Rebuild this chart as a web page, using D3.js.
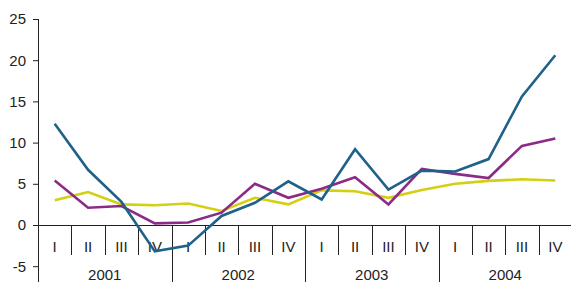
<!DOCTYPE html>
<html>
<head>
<meta charset="utf-8">
<script src="https://cdn.jsdelivr.net/npm/d3@7"></script>
<style>
  body { margin: 0; background: #fff; }
  svg text { font-family: "Liberation Sans", Arial, sans-serif; fill: #222; }
</style>
</head>
<body>
<div id="chart"></div>
<script>
// quarters and years
let years = ["2001", "2002", "2003", "2004"];
let quarters = ["I", "II", "III", "IV"];
let yTicks = [-5, 0, 5, 10, 15, 20, 25];

// series values, one per quarter
let blueSeries = [12.3, 6.7, 2.8, -3.2, -2.5, 1.1, 2.7, 5.3, 3.1, 9.2, 4.3, 6.6, 6.5, 8.0, 15.6, 20.6];
let purpleSeries = [5.4, 2.1, 2.3, 0.2, 0.3, 1.5, 5.0, 3.3, 4.4, 5.8, 2.5, 6.8, 6.2, 5.7, 9.6, 10.5];
let yellowSeries = [3.0, 4.0, 2.5, 2.4, 2.6, 1.7, 3.3, 2.5, 4.2, 4.1, 3.3, 4.25, 5.0, 5.35, 5.55, 5.4];

let width = 571;
let height = 282;
let marginLeft = 38, plotRight = 572, plotTop = 19;

// build category keys
let cats = [];
years.forEach(yr => quarters.forEach(q => cats.push(yr + "-" + q)));

let x = d3.scaleBand().domain(cats).range([marginLeft, plotRight]);
let y = d3.scaleLinear().domain([-5, 25]).range([266.2, plotTop]);

let svg = d3.select("#chart")
  .append("svg")
  .attr("width", width)
  .attr("height", height);

// y axis (plain hyphen for negatives, like the original)
let yAxis = svg.append("g")
  .attr("transform", `translate(${marginLeft},0)`)
  .call(d3.axisLeft(y).tickValues(yTicks).tickSize(5).tickPadding(7).tickFormat(d => String(d)));
yAxis.select(".domain").remove();
yAxis.selectAll(".tick line").attr("stroke", "#222");
yAxis.selectAll("text").style("font-size", "15px").attr("fill", "#222");

svg.append("line")
  .attr("x1", marginLeft + 0.5).attr("x2", marginLeft + 0.5)
  .attr("y1", plotTop).attr("y2", height)
  .attr("stroke", "#222");

// x axis at zero
svg.append("line")
  .attr("x1", marginLeft).attr("x2", plotRight)
  .attr("y1", y(0) + 0.5).attr("y2", y(0) + 0.5)
  .attr("stroke", "#222");

// separators between quarters
cats.forEach((c, i) => {
  if (i === 0) return;
  let xx = Math.round(x(c)) + 0.5;
  let isYear = i % 4 === 0;
  svg.append("line")
    .attr("x1", xx).attr("x2", xx)
    .attr("y1", y(0)).attr("y2", isYear ? height : y(0) + 30)
    .attr("stroke", "#222");
});

// quarter labels
svg.selectAll(".qlabel")
  .data(cats)
  .enter()
  .append("text")
  .attr("x", d => x(d) + x.bandwidth() / 2)
  .attr("y", y(0) + 27)
  .attr("text-anchor", "middle")
  .style("font-size", "15px")
  .text(d => d.split("-")[1]);

// year labels
svg.selectAll(".ylabel")
  .data(years)
  .enter()
  .append("text")
  .attr("x", d => x(d + "-I") + 2 * x.bandwidth())
  .attr("y", 280)
  .attr("text-anchor", "middle")
  .style("font-size", "15px")
  .text(d => d);

// lines
let line = d3.line()
  .x((d, i) => x(cats[i]) + x.bandwidth() / 2)
  .y(d => y(d));

let series = [
  { values: yellowSeries, color: "#d3cf12" },
  { values: purpleSeries, color: "#8c2a88" },
  { values: blueSeries, color: "#1f6189" }
];

series.forEach(s => {
  svg.append("path")
    .datum(s.values)
    .attr("d", line)
    .attr("fill", "none")
    .attr("stroke", s.color)
    .attr("stroke-width", 2.6);
});
</script>
</body>
</html>
